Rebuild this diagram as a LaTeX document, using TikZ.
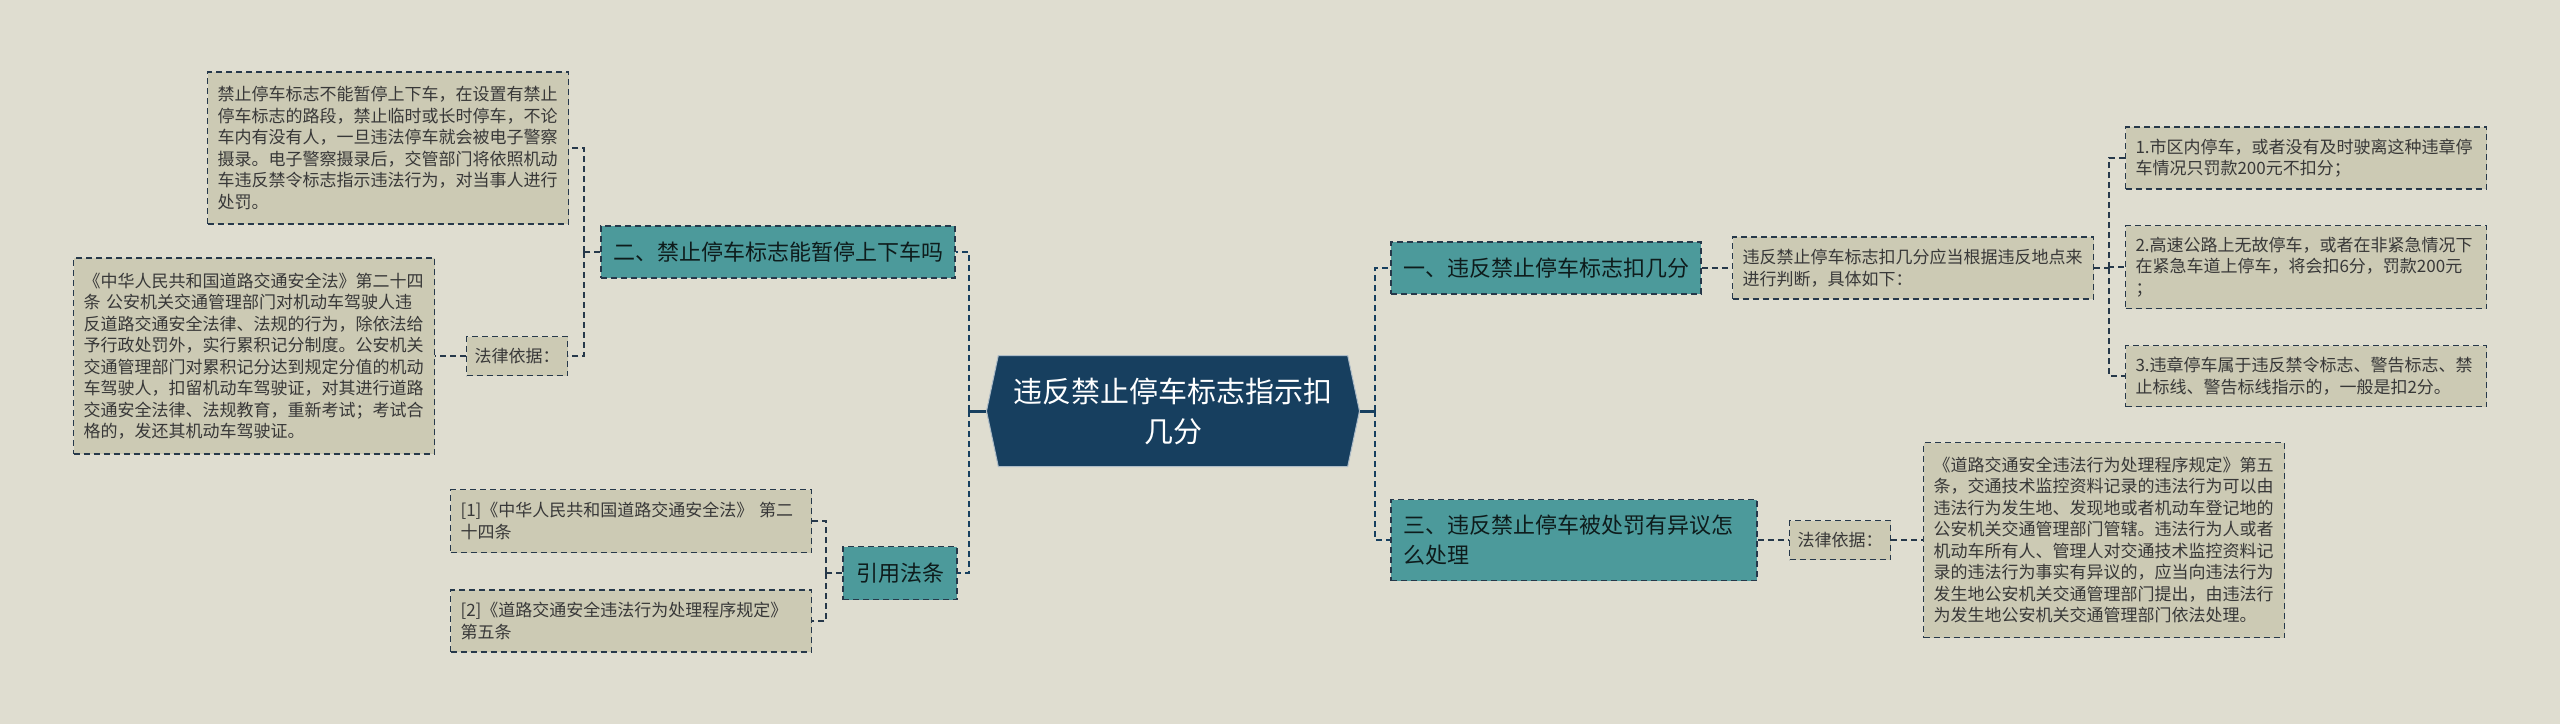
\documentclass[tikz,border=0pt]{standalone}
\usepackage{fontspec}
\setmainfont{Noto Sans CJK SC}
\usepackage{xcolor}
\usepackage{tikz}
\usetikzlibrary{positioning, shapes.symbols, calc}

\definecolor{paper}{HTML}{DFDDD0}
\definecolor{sand}{HTML}{CCCAB4}
\definecolor{tealbox}{HTML}{4C9A9B}
\definecolor{navy}{HTML}{173F5F}
\definecolor{ink}{HTML}{26384A}

\begin{document}
\begin{tikzpicture}[
  x=1pt, y=-1pt,
  font=\fontsize{17}{21.5}\selectfont,
  box/.style={draw=ink, line width=1.5pt, dash pattern=on 6pt off 4pt},
  leaf/.style={box, fill=sand, text=black!78, align=left, text width=341pt,
    inner xsep=10pt, inner ysep=6pt},
  tag/.style={box, fill=sand, text=black!78, minimum height=39pt, inner xsep=8pt},
  topic/.style={box, fill=tealbox, text=black!82!tealbox,
    font=\fontsize{22}{30}\selectfont, inner xsep=12pt, minimum height=52pt},
  hub/.style={signal, signal to=west and east, signal pointer angle=156,
    fill=navy, draw=white!65!navy, line width=1pt, text=white,
    font=\fontsize{29}{40}\selectfont, align=center,
    minimum width=373pt, minimum height=111pt},
  link/.style={draw=ink, line width=2pt, dash pattern=on 6pt off 4pt},
  trunk/.style={link, draw=navy, line width=2.6pt},
  stub/.style={draw=navy, line width=3pt},
]
  \fill[paper] (0,0) rectangle (2560,724);
  \useasboundingbox (0,0) rectangle (2560,724);

  \node[hub] (root) at (1173,411) {违反禁止停车标志指示扣\\几分};

  \node[topic, minimum width=354pt] (two) at (778,252) {二、禁止停车标志能暂停上下车吗};
  \node[topic, minimum width=114pt, minimum height=53pt] (cite) at (900,573) {引用法条};

  \node[leaf, minimum height=152pt] (ban) at (388,148)
    {禁止停车标志不能暂停上下车，在设置有禁止\\
     停车标志的路段，禁止临时或长时停车，不论\\
     车内有没有人，一旦违法停车就会被电子警察\\
     摄录。电子警察摄录后，交管部门将依照机动\\
     车违反禁令标志指示违法行为，对当事人进行\\
     处罚。};
  \node[tag] (basisL) at (517,356) {法律依据：};
  \node[leaf, minimum height=196pt] (lawL) at (254,356)
    {《中华人民共和国道路交通安全法》第二十四\\
     条 公安机关交通管理部门对机动车驾驶人违\\
     反道路交通安全法律、法规的行为，除依法给\\
     予行政处罚外，实行累积记分制度。公安机关\\
     交通管理部门对累积记分达到规定分值的机动\\
     车驾驶人，扣留机动车驾驶证，对其进行道路\\
     交通安全法律、法规教育，重新考试；考试合\\
     格的，发还其机动车驾驶证。};
  \node[leaf, minimum height=63pt] (ref1) at (631,521)
    {[1]《中华人民共和国道路交通安全法》 第二\\十四条};
  \node[leaf, minimum height=62pt] (ref2) at (631,621)
    {[2]《道路交通安全违法行为处理程序规定》\\第五条};

  \node[topic, minimum width=310pt] (one) at (1546,268) {一、违反禁止停车标志扣几分};
  \node[leaf, minimum height=62pt] (rule) at (1913,268)
    {违反禁止停车标志扣几分应当根据违反地点来\\进行判断，具体如下：};
  \node[leaf, minimum height=62pt] (item1) at (2306,158)
    {1.市区内停车，或者没有及时驶离这种违章停\\车情况只罚款200元不扣分；};
  \node[leaf, minimum height=83pt] (item2) at (2306,267)
    {2.高速公路上无故停车，或者在非紧急情况下\\在紧急车道上停车，将会扣6分，罚款200元\\；};
  \node[leaf, minimum height=61pt] (item3) at (2306,376)
    {3.违章停车属于违反禁令标志、警告标志、禁\\止标线、警告标线指示的，一般是扣2分。};

  \node[topic, text width=342pt, align=left, minimum height=81pt] (three) at (1574,540)
    {三、违反禁止停车被处罚有异议怎\\么处理};
  \node[tag] (basisR) at (1840,540) {法律依据：};
  \node[leaf, minimum height=195pt] (lawR) at (2104,540)
    {《道路交通安全违法行为处理程序规定》第五\\
     条，交通技术监控资料记录的违法行为可以由\\
     违法行为发生地、发现地或者机动车登记地的\\
     公安机关交通管理部门管辖。违法行为人或者\\
     机动车所有人、管理人对交通技术监控资料记\\
     录的违法行为事实有异议的，应当向违法行为\\
     发生地公安机关交通管理部门提出，由违法行\\
     为发生地公安机关交通管理部门依法处理。};

  \draw[stub] (root.west) -- ++(-17,0) coordinate (jl);
  \draw[trunk] (jl) |- (two.east);
  \draw[trunk] (jl) |- (cite.east);
  \draw[stub] (root.east) -- ++(15,0) coordinate (jr);
  \draw[trunk] (jr) |- (one.west);
  \draw[trunk] (jr) |- (three.west);

  \draw[link] (two.west) -- ++(-16,0) coordinate (jt);
  \draw[link] (jt) |- (ban.east);
  \draw[link] (jt) |- (basisL.east);
  \draw[link] (basisL.west) -- (lawL.east);

  \draw[link] (cite.west) -- ++(-16,0) coordinate (jc);
  \draw[link] (jc) |- (ref1.east);
  \draw[link] (jc) |- (ref2.east);

  \draw[link] (one.east) -- (rule.west);
  \draw[link] (rule.east) -- ++(15,0) coordinate (jo);
  \draw[link] (jo) |- (item1.west);
  \draw[link] (jo) |- (item2.west);
  \draw[link] (jo) |- (item3.west);

  \draw[link] (three.east) -- (basisR.west);
  \draw[link] (basisR.east) -- (lawR.west);
\end{tikzpicture}
\end{document}
